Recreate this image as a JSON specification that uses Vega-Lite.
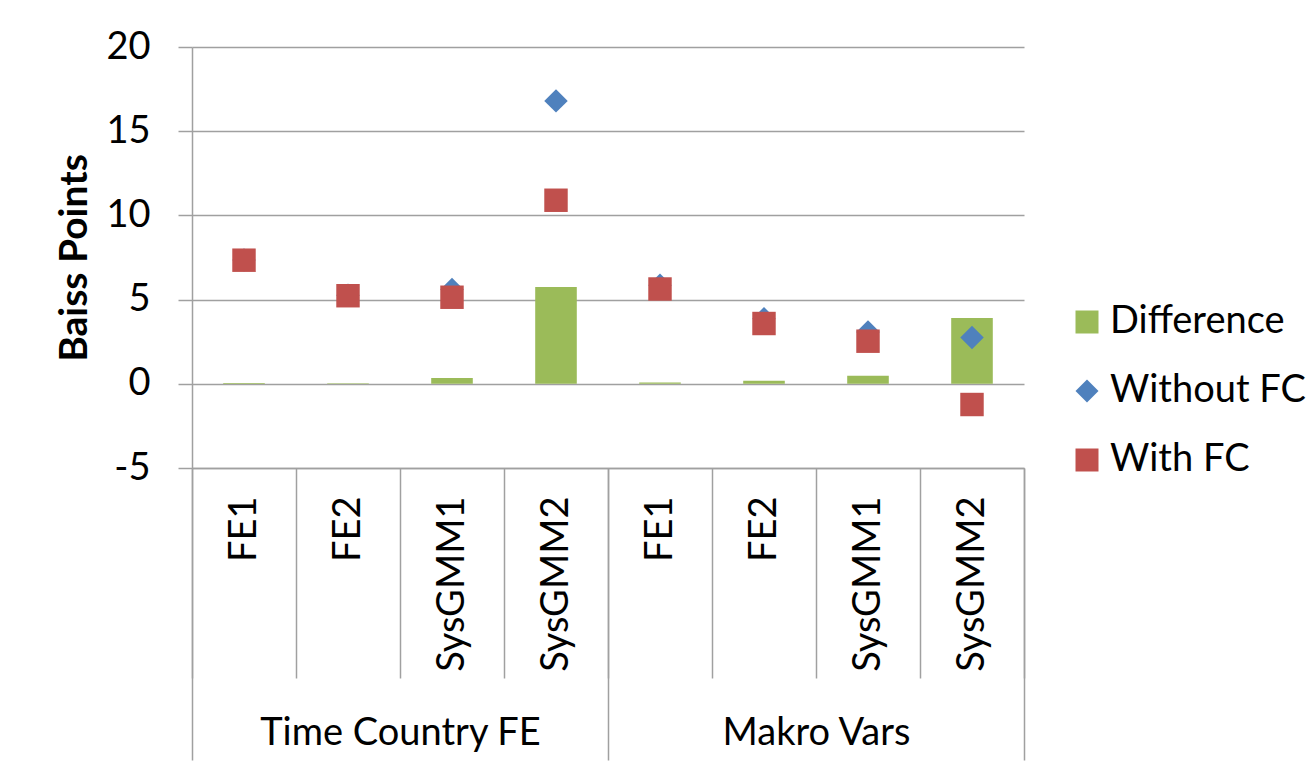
{
  "$schema": "https://vega.github.io/schema/vega-lite/v6.json",
  "width": 832,
  "height": 421,
  "autosize": "none",
  "padding": {"left": 192, "top": 47, "right": 289, "bottom": 302},
  "background": "white",
  "config": {
    "font": "Lato",
    "view": {"stroke": null},
    "axis": {"labelFont": "Lato", "titleFont": "Lato", "labelColor": "#000000", "titleColor": "#000000"},
    "legend": {"labelFont": "Lato", "labelColor": "#000000"}
  },
  "layer": [
    {
      "data": {
        "values": [
          {"k": "Time Country FE|FE1", "series": "Difference", "v": 0.05},
          {"k": "Time Country FE|FE2", "series": "Difference", "v": 0.04},
          {"k": "Time Country FE|SysGMM1", "series": "Difference", "v": 0.35},
          {"k": "Time Country FE|SysGMM2", "series": "Difference", "v": 5.75},
          {"k": "Makro Vars|FE1", "series": "Difference", "v": 0.08},
          {"k": "Makro Vars|FE2", "series": "Difference", "v": 0.18},
          {"k": "Makro Vars|SysGMM1", "series": "Difference", "v": 0.48},
          {"k": "Makro Vars|SysGMM2", "series": "Difference", "v": 3.9},
          {"k": "Time Country FE|FE1", "series": "Without FC", "v": 7.35},
          {"k": "Time Country FE|FE2", "series": "Without FC", "v": 5.26},
          {"k": "Time Country FE|SysGMM1", "series": "Without FC", "v": 5.6},
          {"k": "Time Country FE|SysGMM2", "series": "Without FC", "v": 16.8},
          {"k": "Makro Vars|FE1", "series": "Without FC", "v": 5.85},
          {"k": "Makro Vars|FE2", "series": "Without FC", "v": 3.87},
          {"k": "Makro Vars|SysGMM1", "series": "Without FC", "v": 3.08},
          {"k": "Makro Vars|SysGMM2", "series": "Without FC", "v": 2.75},
          {"k": "Time Country FE|FE1", "series": "With FC", "v": 7.34},
          {"k": "Time Country FE|FE2", "series": "With FC", "v": 5.23},
          {"k": "Time Country FE|SysGMM1", "series": "With FC", "v": 5.14},
          {"k": "Time Country FE|SysGMM2", "series": "With FC", "v": 10.9},
          {"k": "Makro Vars|FE1", "series": "With FC", "v": 5.63},
          {"k": "Makro Vars|FE2", "series": "With FC", "v": 3.58},
          {"k": "Makro Vars|SysGMM1", "series": "With FC", "v": 2.53},
          {"k": "Makro Vars|SysGMM2", "series": "With FC", "v": -1.23}
        ]
      },
      "encoding": {
        "x": {
          "field": "k",
          "type": "nominal",
          "scale": {
            "domain": ["Time Country FE|FE1", "Time Country FE|FE2", "Time Country FE|SysGMM1", "Time Country FE|SysGMM2", "Makro Vars|FE1", "Makro Vars|FE2", "Makro Vars|SysGMM1", "Makro Vars|SysGMM2"],
            "paddingInner": 0,
            "paddingOuter": 0
          },
          "axis": {
            "orient": "bottom",
            "title": null,
            "labelExpr": "split(datum.label, '|')[1]",
            "labelAngle": -90,
            "labelAlign": "right",
            "labelBaseline": "middle",
            "labelFontSize": 38,
            "labelLimit": 0,
            "labelOverlap": false,
            "labelPadding": -182,
            "tickBand": "extent",
            "tickSize": 210,
            "tickWidth": 1.5,
            "tickColor": "#a0a0a0",
            "domain": true,
            "domainColor": "#a0a0a0",
            "domainWidth": 1.5,
            "grid": false
          }
        }
      },
      "layer": [
        {
          "transform": [{"filter": "datum.series === 'Difference'"}],
          "mark": {"type": "bar", "width": {"band": 0.4}},
          "encoding": {
            "y": {
              "field": "v",
              "type": "quantitative",
              "scale": {"domain": [-5, 20], "nice": false},
              "axis": {
                "title": "Baiss Points",
                "titleFontSize": 39,
                "titleFontWeight": "bold",
                "titlePadding": 11,
                "labelFontSize": 38,
                "labelPadding": 28,
                "labelExpr": "'' + datum.value",
                "tickSize": 14,
                "tickWidth": 1.5,
                "tickColor": "#a0a0a0",
                "domainColor": "#a0a0a0",
                "domainWidth": 1.5,
                "gridColor": "#a0a0a0",
                "gridWidth": 1.5,
                "values": [-5, 0, 5, 10, 15, 20]
              }
            },
            "color": {
              "field": "series",
              "type": "nominal",
              "scale": {"domain": ["Difference", "Without FC", "With FC"], "range": ["#9BBB59", "#4F81BD", "#C0504D"]},
              "legend": {"orient": "none", "legendX": 876, "legendY": 256, "title": null, "labelFontSize": 38, "labelLimit": 0, "symbolSize": 529, "rowPadding": 31, "labelOffset": 4, "symbolStrokeWidth": 0}
            }
          }
        },
        {
          "transform": [{"filter": "datum.series !== 'Difference'"}],
          "mark": {"type": "point", "filled": true, "opacity": 1, "size": 550},
          "encoding": {
            "y": {"field": "v", "type": "quantitative"},
            "color": {"field": "series", "type": "nominal"},
            "shape": {
              "field": "series",
              "type": "nominal",
              "scale": {"domain": ["Difference", "Without FC", "With FC"], "range": ["square", "diamond", "square"]},
              "legend": {"orient": "none", "legendX": 876, "legendY": 256, "title": null, "labelFontSize": 38, "labelLimit": 0, "symbolSize": 529, "rowPadding": 31, "labelOffset": 4, "symbolStrokeWidth": 0}
            }
          }
        }
      ]
    },
    {
      "data": {"values": [{"grp": "Time Country FE"}, {"grp": "Makro Vars"}]},
      "mark": {"type": "point", "opacity": 0},
      "encoding": {
        "x": {
          "field": "grp",
          "type": "nominal",
          "scale": {"domain": ["Time Country FE", "Makro Vars"], "paddingInner": 0, "paddingOuter": 0},
          "axis": {
            "orient": "bottom",
            "title": null,
            "domain": false,
            "grid": false,
            "labelAngle": 0,
            "labelFontSize": 38,
            "labelLimit": 0,
            "labelPadding": -46,
            "tickBand": "extent",
            "tickSize": 292,
            "tickWidth": 1.5,
            "tickColor": "#a0a0a0"
          }
        }
      }
    }
  ],
  "resolve": {"scale": {"x": "independent"}, "axis": {"x": "independent"}}
}
